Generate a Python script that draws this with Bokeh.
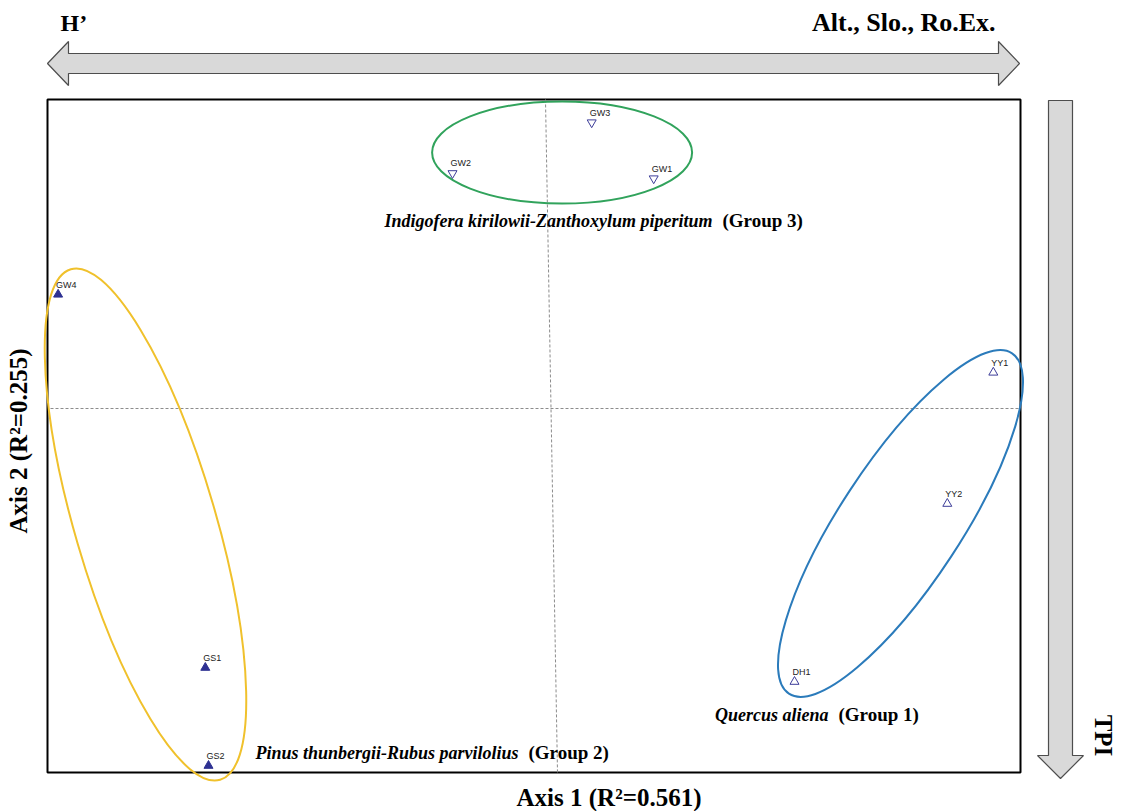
import math
from bokeh.plotting import figure
from bokeh.models import Range1d
from bokeh.core.properties import value
from bokeh.embed import file_html
from bokeh.resources import INLINE

# ---------------- data (NMS ordination scores) ----------------
# Group 1 : Quercus aliena
g1_sites = ["YY1", "YY2", "DH1"]
g1_ax1 = [1.107, 0.992, 0.610]
g1_ax2 = [0.090, -0.238, -0.683]
# Group 2 : Pinus thunbergii-Rubus parvilolius
g2_sites = ["GW4", "GS1", "GS2"]
g2_ax1 = [-1.231, -0.863, -0.855]
g2_ax2 = [0.285, -0.648, -0.893]
# Group 3 : Indigofera kirilowii-Zanthoxylum piperitum
g3_sites = ["GW1", "GW2", "GW3"]
g3_ax1 = [0.258, -0.245, 0.103]
g3_ax2 = [0.575, 0.588, 0.715]

# group envelopes (centre, width, height, rotation in degrees)
env_x = [0.875, -1.0125, 0.029]
env_y = [-0.2875, -0.290, 0.640]
env_w = [1.0175, 0.3525, 0.650]
env_h = [0.3025, 1.330, 0.255]
env_angle = [56.75, 16.3, 0.0]
env_color = ["#2b7bbb", "#f0c12c", "#31a35c"]

group_names = ["Quercus aliena", "Pinus thunbergii-Rubus parvilolius",
               "Indigofera kirilowii-Zanthoxylum piperitum"]
group_tags = ["(Group 1)", "(Group 2)", "(Group 3)"]
group_tag_x = [0.720, -0.055, 0.430]
group_tag_y = [-0.765, -0.860, 0.470]

axis1_title = "Axis 1 (R\u00b2=0.561)"
axis2_title = "Axis 2 (R\u00b2=0.255)"
top_left_var = "H\u2019"
top_right_var = "Alt.,  Slo.,  Ro.Ex."
right_var = "TPI"

# ordination box extent (score units)
AX1_LIM = (-1.2575, 1.175)
AX2_LIM = (-0.910, 0.7725)
# rotated axis-2 reference line (ends at top / bottom of box)
ax2_line_x = (-0.0125, 0.0175)

# ---------------- layout ----------------
W, H = 1124, 811
S = 400.0                      # pixels per score unit
LEFT_PAD, TOP_PAD = 47, 99     # pixels from canvas edge to box
x0 = AX1_LIM[0] - LEFT_PAD / S
y1 = AX2_LIM[1] + TOP_PAD / S
PX = 1.0 / S                   # one pixel in score units

p = figure(width=W, height=H, x_range=Range1d(x0, x0 + W / S),
           y_range=Range1d(y1 - H / S, y1), x_axis_type=None, y_axis_type=None,
           toolbar_location=None, output_backend="svg", min_border=0,
           outline_line_color=None, background_fill_color="white",
           border_fill_color="white")

# box
p.quad(left=[AX1_LIM[0]], right=[AX1_LIM[1]], bottom=[AX2_LIM[0]], top=[AX2_LIM[1]],
       fill_color=None, line_color="black", line_width=2)

# reference lines
p.segment(x0=[AX1_LIM[0] + 3 * PX], y0=[0], x1=[AX1_LIM[1]], y1=[0],
          line_color="#8c8c8c", line_width=1, line_dash="3 2")
p.segment(x0=[ax2_line_x[0]], y0=[AX2_LIM[1]], x1=[ax2_line_x[1]], y1=[AX2_LIM[0]],
          line_color="#8c8c8c", line_width=1, line_dash="3 2")

# envelopes
p.ellipse(x=env_x, y=env_y, width=env_w, height=env_h,
          angle=[math.radians(a) for a in env_angle],
          fill_color=None, line_color=env_color, line_width=2)

# points
NAVY = "#2e3192"
p.scatter(g1_ax1, g1_ax2, marker="triangle", size=9, fill_color=None,
          line_color="#3d3d99", line_width=1)
p.scatter(g2_ax1, g2_ax2, marker="triangle", size=9, fill_color=NAVY,
          line_color=NAVY, line_width=1)
p.scatter(g3_ax1, g3_ax2, marker="inverted_triangle", size=9, fill_color=None,
          line_color="#3d3d99", line_width=1)

p.text(x=g1_ax1 + g2_ax1 + g3_ax1, y=g1_ax2 + g2_ax2 + g3_ax2,
       text=g1_sites + g2_sites + g3_sites, text_font=value("Liberation Sans"),
       text_font_size="9px", text_color="#222222", text_align="left",
       text_baseline="bottom", x_offset=-2, y_offset=-5)

# group labels
serif = value("Liberation Serif")
GAP = 10 * PX
p.text(x=[x - GAP for x in group_tag_x], y=group_tag_y, text=group_names,
       text_font=serif, text_font_style="bold italic", text_font_size="18px",
       text_align="right", text_baseline="middle", text_color="black")
p.text(x=group_tag_x, y=group_tag_y, text=group_tags,
       text_font=serif, text_font_style="bold", text_font_size="19px",
       text_align="left", text_baseline="middle", text_color="black")

# ---------------- gradient arrows ----------------
bx0, bx1 = AX1_LIM
by0, by1 = AX2_LIM
# horizontal double arrow above the box
cy = by1 + 36 * PX
sh, hh, hl = 10 * PX, 22 * PX, 21 * PX
lt, rt = bx0 + 0 * PX, bx1 - 1 * PX
hx = [lt, lt + hl, lt + hl, rt - hl, rt - hl, rt, rt - hl, rt - hl, lt + hl, lt + hl]
hy = [cy, cy + hh, cy + sh, cy + sh, cy + hh, cy, cy - hh, cy - sh, cy - sh, cy - hh]
p.patch(hx, hy, fill_color="#d9d9d9", line_color="#4d4d4d", line_width=1.2)

# vertical arrow right of the box
cx = bx1 + 40 * PX
vsh, vhh, vhl = 12 * PX, 23 * PX, 23 * PX
vt, vb = by1 - 1 * PX, by0 - 6 * PX
vx = [cx - vsh, cx + vsh, cx + vsh, cx + vhh, cx, cx - vhh, cx - vsh]
vy = [vt, vt, vb + vhl, vb + vhl, vb, vb + vhl, vb + vhl]
p.patch(vx, vy, fill_color="#d9d9d9", line_color="#4d4d4d", line_width=1.2)

# ---------------- titles ----------------
p.text(x=[bx0 + 13 * PX], y=[by1 + 77 * PX], text=[top_left_var], text_font=serif,
       text_font_style="bold", text_font_size="24px", text_align="left",
       text_baseline="middle", text_color="black")
p.text(x=[bx1 - 12 * PX], y=[by1 + 77 * PX], text=[top_right_var], text_font=serif,
       text_font_style="bold", text_font_size="26px", text_align="right",
       text_baseline="middle", text_color="black")
p.text(x=[(bx0 + bx1) / 2 + 75 * PX], y=[by0 - 25 * PX], text=[axis1_title], text_font=serif,
       text_font_style="bold", text_font_size="25px", text_align="center",
       text_baseline="middle", text_color="black")
p.text(x=[bx0 - 29 * PX], y=[(by0 + by1) / 2 - 5 * PX], text=[axis2_title],
       text_font=serif, text_font_style="bold", text_font_size="25px",
       text_align="center", text_baseline="middle", angle=math.pi / 2,
       text_color="black")
p.text(x=[bx1 + 83 * PX], y=[by0 + 37 * PX], text=[right_var], text_font=serif,
       text_font_style="bold", text_font_size="25px", text_align="center",
       text_baseline="middle", angle=-math.pi / 2, text_color="black")

open("out.html", "w").write(file_html(p, INLINE))
